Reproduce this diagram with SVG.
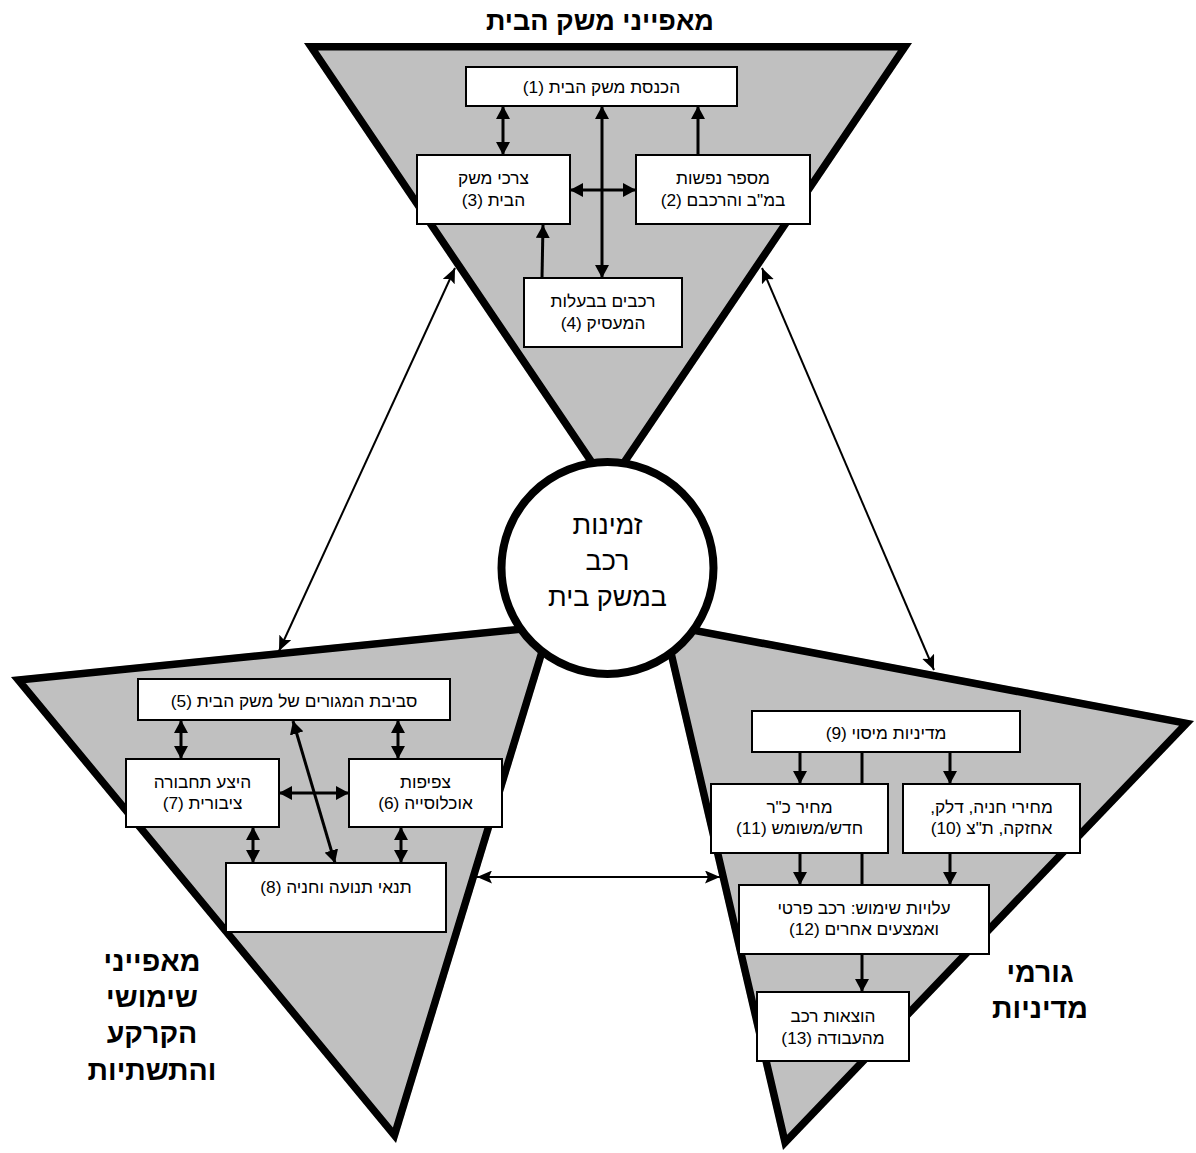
<svg xmlns="http://www.w3.org/2000/svg" width="1196" height="1153" viewBox="0 0 1196 1153">
  <style>
    .tri { fill: #c0c0c0; stroke: #000; stroke-width: 15; stroke-linejoin: miter; }
    .hub { fill: #fff; stroke: #000; stroke-width: 8; }
    .box { fill: #fff; stroke: #000; stroke-width: 2; }
    .lbl { font-family: "Liberation Sans", "DejaVu Sans", sans-serif; font-size: 17.3px; fill: #000; text-anchor: middle; direction: rtl; unicode-bidi: embed; }
    .hubtxt { font-family: "Liberation Sans", "DejaVu Sans", sans-serif; font-size: 27px; fill: #000; text-anchor: middle; direction: rtl; unicode-bidi: embed; }
    .head { font-family: "Liberation Sans", "DejaVu Sans", sans-serif; font-size: 28.5px; font-weight: bold; fill: #000; text-anchor: middle; direction: rtl; unicode-bidi: embed; }
    .title { font-size: 27px; }
    .con { stroke: #000; stroke-width: 3; fill: none; }
    .thin { stroke: #000; stroke-width: 2; fill: none; }
  </style>
  <defs>
    <marker id="ah" viewBox="0 0 13 14" refX="13" refY="7" markerWidth="13" markerHeight="14" markerUnits="userSpaceOnUse" orient="auto-start-reverse">
      <path d="M0,0 L13,7 L0,14 z" fill="#000"/>
    </marker>
    <marker id="aht" viewBox="0 0 15 13" refX="15" refY="6.5" markerWidth="15" markerHeight="13" markerUnits="userSpaceOnUse" orient="auto-start-reverse">
      <path d="M0,0 L15,6.5 L0,13 L3,6.5 z" fill="#000"/>
    </marker>
    <clipPath id="clipTop"><polygon points="304,43 912,43 608,493"/></clipPath>
    <clipPath id="clipLeft"><polygon points="11,677 555,622 396,1143"/></clipPath>
    <clipPath id="clipRight"><polygon points="659.5,620 1194,721 783,1150"/></clipPath>
  </defs>

  <!-- three sectors around the hub -->
  <g id="sector-household">
    <polygon class="tri" points="304,43 912,43 608,493" clip-path="url(#clipTop)"/>
  </g>
  <g id="sector-landuse">
    <polygon class="tri" points="11,677 555,622 396,1143" clip-path="url(#clipLeft)"/>
  </g>
  <g id="sector-policy">
    <polygon class="tri" points="659.5,620 1194,721 783,1150" clip-path="url(#clipRight)"/>
  </g>

  <!-- central hub -->
  <g id="hub">
    <circle class="hub" cx="607.5" cy="568" r="106"/>
    <text class="hubtxt" x="607.5" y="534">זמינות</text>
    <text class="hubtxt" x="607.5" y="570">רכב</text>
    <text class="hubtxt" x="607.5" y="606">במשק בית</text>
  </g>

  <!-- connectors -->
  <g id="connectors">
    <!-- household sector -->
    <line class="con" x1="503" y1="106" x2="503" y2="155" marker-start="url(#ah)" marker-end="url(#ah)"/>
    <line class="con" x1="602" y1="106" x2="602" y2="278" marker-start="url(#ah)" marker-end="url(#ah)"/>
    <line class="con" x1="698" y1="155" x2="698" y2="106" marker-end="url(#ah)"/>
    <line class="con" x1="570" y1="190" x2="636" y2="190" marker-start="url(#ah)" marker-end="url(#ah)"/>
    <line class="con" x1="542" y1="278" x2="543" y2="225" marker-end="url(#ah)"/>
    <!-- land-use sector -->
    <line class="con" x1="181" y1="720" x2="181" y2="759" marker-start="url(#ah)" marker-end="url(#ah)"/>
    <line class="con" x1="398" y1="720" x2="398" y2="759" marker-start="url(#ah)" marker-end="url(#ah)"/>
    <line class="con" x1="279" y1="793" x2="349" y2="793" marker-start="url(#ah)" marker-end="url(#ah)"/>
    <line class="con" x1="293" y1="721" x2="335" y2="863" marker-start="url(#ah)" marker-end="url(#ah)"/>
    <line class="con" x1="253" y1="827" x2="253" y2="863" marker-start="url(#ah)" marker-end="url(#ah)"/>
    <line class="con" x1="401" y1="827" x2="401" y2="863" marker-start="url(#ah)" marker-end="url(#ah)"/>
    <!-- policy sector -->
    <line class="con" x1="862" y1="752" x2="862" y2="992" marker-end="url(#ah)"/>
    <line class="con" x1="800" y1="752" x2="800" y2="784" marker-end="url(#ah)"/>
    <line class="con" x1="950" y1="752" x2="950" y2="784" marker-end="url(#ah)"/>
    <line class="con" x1="800" y1="853" x2="800" y2="885" marker-end="url(#ah)"/>
    <line class="con" x1="950" y1="853" x2="950" y2="885" marker-end="url(#ah)"/>
    <!-- links between sectors -->
    <line class="thin" x1="455" y1="268" x2="279" y2="651" marker-start="url(#aht)" marker-end="url(#aht)"/>
    <line class="thin" x1="762" y1="268" x2="934" y2="670" marker-start="url(#aht)" marker-end="url(#aht)"/>
    <line class="thin" x1="477" y1="877" x2="720" y2="877" marker-start="url(#aht)" marker-end="url(#aht)"/>
  </g>

  <!-- household nodes -->
  <g id="n1">
    <rect class="box" x="466" y="67" width="271" height="39"/>
    <text class="lbl" x="601.5" y="93">הכנסת משק הבית (1)</text>
  </g>
  <g id="n2">
    <rect class="box" x="636" y="155" width="174" height="69"/>
    <text class="lbl" x="723" y="184">מספר נפשות</text>
    <text class="lbl" x="723" y="206">במ"ב והרכבם (2)</text>
  </g>
  <g id="n3">
    <rect class="box" x="417" y="155" width="153" height="69"/>
    <text class="lbl" x="493.5" y="184">צרכי משק</text>
    <text class="lbl" x="493.5" y="206">הבית (3)</text>
  </g>
  <g id="n4">
    <rect class="box" x="524" y="278" width="158" height="69"/>
    <text class="lbl" x="603" y="307">רכבים בבעלות</text>
    <text class="lbl" x="603" y="329">המעסיק (4)</text>
  </g>

  <!-- land-use nodes -->
  <g id="n5">
    <rect class="box" x="138" y="679" width="312" height="41"/>
    <text class="lbl" x="294" y="707">סביבת המגורים של משק הבית (5)</text>
  </g>
  <g id="n6">
    <rect class="box" x="349" y="759" width="153" height="68"/>
    <text class="lbl" x="425.5" y="788">צפיפות</text>
    <text class="lbl" x="425.5" y="809">אוכלוסייה (6)</text>
  </g>
  <g id="n7">
    <rect class="box" x="126" y="759" width="153" height="68"/>
    <text class="lbl" x="202.5" y="788">היצע תחבורה</text>
    <text class="lbl" x="202.5" y="809">ציבורית (7)</text>
  </g>
  <g id="n8">
    <rect class="box" x="226" y="863" width="220" height="69"/>
    <text class="lbl" x="336" y="893">תנאי תנועה וחניה (8)</text>
  </g>

  <!-- policy nodes -->
  <g id="n9">
    <rect class="box" x="752" y="711" width="268" height="41"/>
    <text class="lbl" x="886" y="739">מדיניות מיסוי (9)</text>
  </g>
  <g id="n10">
    <rect class="box" x="903" y="784" width="177" height="69"/>
    <text class="lbl" x="991.5" y="813">מחירי חניה, דלק,</text>
    <text class="lbl" x="991.5" y="834">אחזקה, ת"צ (10)</text>
  </g>
  <g id="n11">
    <rect class="box" x="711" y="784" width="177" height="69"/>
    <text class="lbl" x="799.5" y="813">מחיר כ"ר</text>
    <text class="lbl" x="799.5" y="834">חדש/משומש (11)</text>
  </g>
  <g id="n12">
    <rect class="box" x="739" y="885" width="250" height="69"/>
    <text class="lbl" x="864" y="914">עלויות שימוש: רכב פרטי</text>
    <text class="lbl" x="864" y="935">ואמצעים אחרים (12)</text>
  </g>
  <g id="n13">
    <rect class="box" x="757" y="992" width="152" height="69"/>
    <text class="lbl" x="833" y="1022">הוצאות רכב</text>
    <text class="lbl" x="833" y="1044">מהעבודה (13)</text>
  </g>

  <!-- sector headings -->
  <g id="headings">
    <text class="head title" x="600" y="30">מאפייני משק הבית</text>
    <text class="head" x="152" y="971">מאפייני</text>
    <text class="head" x="152" y="1007">שימושי</text>
    <text class="head" x="152" y="1043">הקרקע</text>
    <text class="head" x="152" y="1080">והתשתיות</text>
    <text class="head" x="1040" y="982">גורמי</text>
    <text class="head" x="1040" y="1018">מדיניות</text>
  </g>
</svg>
